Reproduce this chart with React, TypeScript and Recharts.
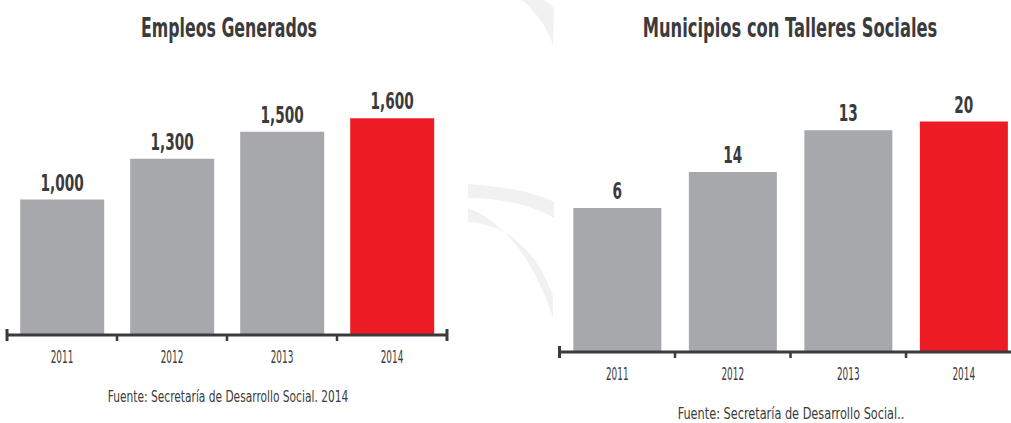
import React from "react";
import { Bar, BarChart, Cell, LabelList, XAxis, YAxis } from "recharts";

const years = ["2011", "2012", "2013", "2014"];
const empleos = [1000, 1300, 1500, 1600];
const municipios = [6, 14, 13, 20];
// bar lengths as drawn in the source (not in proportion to the labels)
const municipiosBarra = [1000, 1250, 1540, 1600];
const barColors = ["#a7a8ab", "#a7a8ab", "#a7a8ab", "#ed1c24"];

const font = "'DejaVu Sans Condensed', 'DejaVu Sans', sans-serif";
const ink = "#3b3b3d";

const empleosData = years.map((year, i) => ({
  year,
  value: empleos[i],
  label: empleos[i].toLocaleString("en-US"),
}));

const municipiosData = years.map((year, i) => ({
  year,
  value: municipiosBarra[i],
  label: String(municipios[i]),
}));

function makeTick(halfBand: number, count: number) {
  return function YearTick(props: any) {
    const { x, y, payload, index } = props;
    const left = x - halfBand;
    const right = x + halfBand;
    return (
      <g>
        {index === 0 ? (
          <line x1={left} x2={left} y1={y - 6} y2={y + 6} stroke={ink} strokeWidth={3} />
        ) : (
          <line x1={left} x2={left} y1={y} y2={y + 6} stroke={ink} strokeWidth={2.5} />
        )}
        {index === count - 1 ? (
          <line x1={right} x2={right} y1={y - 6} y2={y + 6} stroke={ink} strokeWidth={3} />
        ) : null}
        <text
          transform={`translate(${x},${y + 28}) scale(0.58,1)`}
          textAnchor="middle"
          fontFamily={font}
          fontSize={17}
          fill={ink}
        >
          {payload.value}
        </text>
      </g>
    );
  };
}

function ValueLabel(props: any) {
  const { x, y, width, value } = props;
  return (
    <text
      transform={`translate(${x + width / 2},${y - 9}) scale(0.66,1)`}
      textAnchor="middle"
      fontFamily={font}
      fontWeight="bold"
      fontSize={23}
      fill={ink}
    >
      {value}
    </text>
  );
}

function Swoosh() {
  return (
    <svg width={1011} height={423} style={{ position: "absolute", left: 0, top: 0 }}>
      <path d="M 522 0 C 538 14, 549 30, 553 46 L 554 8 C 550 4, 546 1, 543 0 Z" fill="#f1f1f2" />
      <path d="M 468 184 C 500 186, 535 192, 554 202 L 554 218 C 535 206, 500 198, 468 198 Z" fill="#f1f1f2" />
      <path d="M 468 208 C 505 222, 535 262, 553 318 L 553 296 C 540 258, 512 224, 468 222 Z" fill="#f1f1f2" />
    </svg>
  );
}

interface PanelProps {
  title: string;
  titleScale: number;
  source: string;
  sourceScale: number;
  data: { year: string; value: number; label: string }[];
  left: number;
  width: number;
  margin: { top: number; right: number; left: number; bottom: number };
  axisHeight: number;
  titleX: number;
  sourceX: number;
  sourceY: number;
}

function Panel({ title, titleScale, source, sourceScale, data, left, width, margin, axisHeight, titleX, sourceX, sourceY }: PanelProps) {
  const halfBand = (width - margin.left - margin.right) / data.length / 2;
  return (
    <div style={{ position: "absolute", left, top: 0, width, height: 423 }}>
      <BarChart width={width} height={423} data={data} margin={margin} barCategoryGap="12%">
        <XAxis
          dataKey="year"
          height={axisHeight}
          axisLine={{ stroke: ink, strokeWidth: 3 }}
          tickLine={false}
          tickSize={0}
          tickMargin={0}
          interval={0}
          tick={makeTick(halfBand, data.length)}
        />
        <YAxis hide domain={[0, 2000]} />
        <Bar dataKey="value" isAnimationActive={false}>
          {data.map((d, i) => (
            <Cell key={d.year} fill={barColors[i]} />
          ))}
          <LabelList dataKey="label" content={ValueLabel} />
        </Bar>
      </BarChart>
      <svg width={width} height={423} style={{ position: "absolute", left: 0, top: 0, pointerEvents: "none" }}>
        <text
          transform={`translate(${titleX},37) scale(${titleScale},1)`}
          textAnchor="middle"
          fontFamily={font}
          fontWeight="bold"
          fontSize={27}
          fill={ink}
        >
          {title}
        </text>
        <text
          transform={`translate(${sourceX},${sourceY}) scale(${sourceScale},1)`}
          textAnchor="middle"
          fontFamily={font}
          fontSize={16}
          fill={ink}
        >
          {source}
        </text>
      </svg>
    </div>
  );
}

export default function App() {
  return (
    <div style={{ position: "fixed", left: 0, top: 0, width: 1011, height: 423, overflow: "hidden", background: "#fff" }}>
      <style>{"html, body { margin: 0; overflow: hidden; }"}</style>
      <Swoosh />
      <Panel
        title="Empleos Generados"
        titleScale={0.65}
        source="Fuente: Secretaría de Desarrollo Social. 2014"
        sourceScale={0.74}
        data={empleosData}
        left={0}
        width={460}
        margin={{ top: 64, right: 13, left: 7, bottom: 0 }}
        axisHeight={88}
        titleX={229}
        sourceX={228}
        sourceY={402}
      />
      <Panel
        title="Municipios con Talleres Sociales"
        titleScale={0.672}
        source="Fuente: Secretaría de Desarrollo Social.."
        sourceScale={0.787}
        data={municipiosData}
        left={540}
        width={490}
        margin={{ top: 64, right: 8.5, left: 19.5, bottom: 0 }}
        axisHeight={71}
        titleX={250}
        sourceX={251}
        sourceY={419}
      />
    </div>
  );
}
